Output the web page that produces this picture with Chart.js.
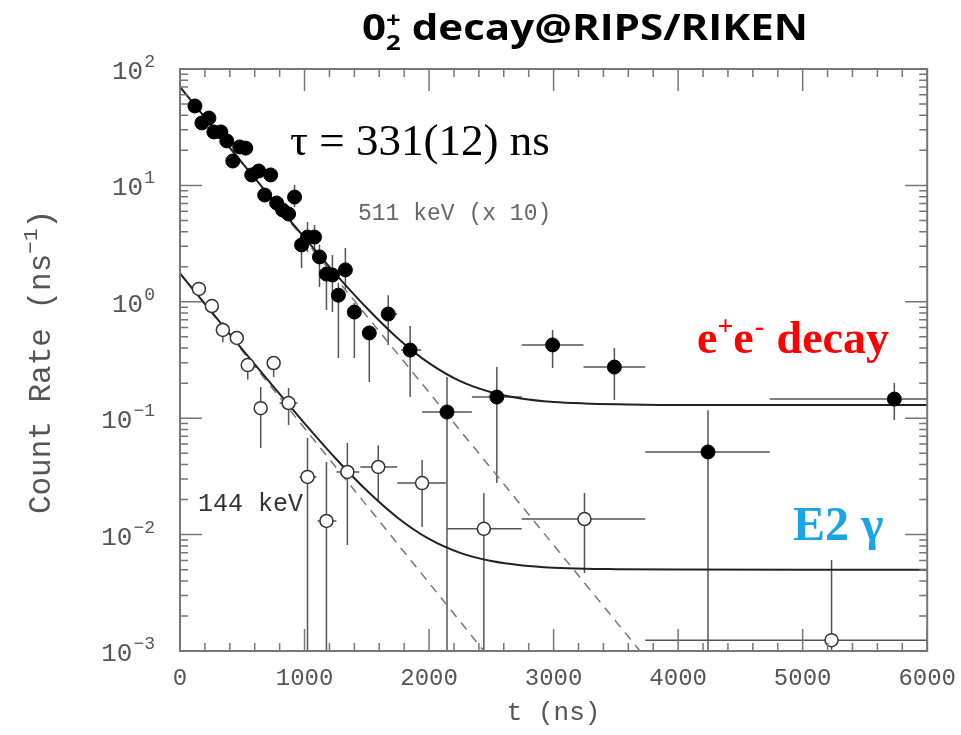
<!DOCTYPE html>
<html>
<head>
<meta charset="utf-8">
<script src="https://cdn.jsdelivr.net/npm/chart.js@4.4.0/dist/chart.umd.min.js"></script>
<style>
  html, body { margin: 0; padding: 0; background: #fff; }
  #wrap { width: 961px; height: 735px; }
</style>
</head>
<body>
<div id="wrap"><canvas id="decayChart" width="961" height="735"></canvas></div>
<script>
// 511 keV (x 10) points, filled circles
const filledT    = [120, 176, 232, 272, 328, 376, 424, 480, 528, 576, 632, 680, 728, 776, 824, 872, 920, 976, 1024, 1080, 1120, 1176, 1224, 1272, 1328, 1400, 1520, 1672, 1848, 2144, 2544, 2992, 3488, 4240, 5736];
const filledRate = [48.1, 34.4, 37.9, 28.8, 28.8, 24.1, 16.2, 21.4, 20.9, 12.3, 13.3, 8.27, 12.3, 7.06, 6.15, 5.68, 7.94, 3.08, 3.60, 3.60, 2.43, 1.73, 1.70, 1.14, 1.88, 0.817, 0.540, 0.785, 0.385, 0.113, 0.152, 0.426, 0.275, 0.0513, 0.146];
const filledLo   = [null, null, null, null, null, null, null, null, null, null, null, null, null, null, null, null, 6.5, 1.95, 2.68, 2.68, 1.34, 0.851, 0.817, 0.329, 1.26, 0.329, 0.205, 0.426, 0.152, 0.001, 0.0277, 0.270, 0.143, 0.001, 0.0966];
const filledHi   = [null, null, null, null, null, null, null, null, null, null, null, null, null, null, null, null, 10.1, 3.75, 4.85, 4.57, 3.08, 2.07, 2.52, 1.45, 2.90, 0.977, 0.596, 1.14, 0.619, 0.226, 0.275, 0.573, 0.401, 0.117, 0.201];
const filledTLo  = [null, null, null, null, null, null, null, null, null, null, null, null, null, null, null, null, null, null, null, null, null, null, null, null, null, null, null, 1624, 1776, 1944, 2344, 2744, 3240, 3736, 4736];
const filledTHi  = [null, null, null, null, null, null, null, null, null, null, null, null, null, null, null, null, null, null, null, null, null, null, null, null, null, null, null, 1744, 1936, 2344, 2744, 3240, 3736, 4736, 6000];

// 144 keV points, open circles
const openT    = [152, 256, 344, 456, 544, 648, 752, 872, 1024, 1176, 1344, 1592, 1944, 2440, 3248, 5232];
const openRate = [1.29, 0.920, 0.573, 0.489, 0.286, 0.122, 0.298, 0.135, 0.0313, 0.0131, 0.0345, 0.0381, 0.0277, 0.0112, 0.0136, 0.00124];
const openLo   = [null, null, 0.45, null, 0.215, 0.0555, 0.226, 0.0875, 0.001, 0.001, 0.00815, 0.0198, 0.0116, 0.001, 0.00468, 0.001];
const openHi   = [null, null, 0.67, null, 0.286, 0.185, 0.336, 0.182, 0.0676, 0.0421, 0.0612, 0.0587, 0.0437, 0.0228, 0.0228, 0.00605];
const openTLo  = [null, null, null, null, null, null, null, 800, 960, 1104, 1256, 1448, 1744, 2144, 2744, 3736];
const openTHi  = [null, null, null, null, null, null, null, 944, 1096, 1256, 1440, 1744, 2136, 2744, 3736, 6000];

// fit curves
const fitT   = [0, 250, 500, 750, 1000, 1250, 1500, 1750, 2000, 2250, 2500, 2750, 3000, 3250, 3500, 4000, 5000, 6000];
const fit511 = [70.1, 33.0, 15.6, 7.39, 3.55, 1.73, 0.884, 0.484, 0.297, 0.208, 0.167, 0.147, 0.138, 0.134, 0.132, 0.130, 0.130, 0.130];
const fit144 = [1.755, 0.827, 0.391, 0.1865, 0.0904, 0.0451, 0.0239, 0.0139, 0.00917, 0.00696, 0.00592, 0.00543, 0.00520, 0.00509, 0.00505, 0.00501, 0.0050, 0.0050];
const dashT511 = [0, 3694];
const dash511  = [70, 0.001];
const dashT144 = [0, 2440];
const dash144  = [1.75, 0.001];

// axis ticks
const xTicks = [0, 1000, 2000, 3000, 4000, 5000, 6000];
const yExponents = [-3, -2, -1, 0, 1, 2];

const toPoints = (xs, ys) => xs.map((v, i) => ({ x: v, y: ys[i] }));

const MONO = '"Liberation Mono", "DejaVu Sans Mono", monospace';
const SERIF = '"Liberation Serif", "DejaVu Serif", serif';

function drawBars(ctx, x, y, ts, vals, lo, hi, tlo, thi) {
    ts.forEach((t, i) => {
        const px = x.getPixelForValue(t);
        const py = y.getPixelForValue(vals[i]);
        if (lo[i] !== null) {
            ctx.beginPath();
            ctx.moveTo(px, y.getPixelForValue(lo[i]));
            ctx.lineTo(px, y.getPixelForValue(hi[i]));
            ctx.stroke();
        }
        if (tlo[i] !== null) {
            ctx.beginPath();
            ctx.moveTo(x.getPixelForValue(tlo[i]), py);
            ctx.lineTo(x.getPixelForValue(thi[i]), py);
            ctx.stroke();
        }
    });
}

const errorBars = {
    id: 'errorBars',
    beforeDatasetsDraw(chart) {
        const { ctx, chartArea: a, scales: { x, y } } = chart;
        ctx.save();
        ctx.beginPath();
        ctx.rect(a.left, a.top, a.right - a.left, a.bottom - a.top);
        ctx.clip();
        ctx.strokeStyle = '#555';
        ctx.lineWidth = 1.5;
        drawBars(ctx, x, y, filledT, filledRate, filledLo, filledHi, filledTLo, filledTHi);
        drawBars(ctx, x, y, openT, openRate, openLo, openHi, openTLo, openTHi);
        ctx.restore();
    }
};

// frame with inward ticks, y labels and the annotations
const decorations = {
    id: 'decorations',
    afterDraw(chart) {
        const { ctx, chartArea: a, scales: { x, y } } = chart;
        ctx.save();
        ctx.strokeStyle = '#777';
        ctx.lineWidth = 2;
        ctx.strokeRect(a.left, a.top, a.right - a.left, a.bottom - a.top);

        ctx.lineWidth = 1.5;
        ctx.beginPath();
        for (let t = 0; t <= 6000; t += 200) {
            const px = x.getPixelForValue(t);
            const len = t % 1000 === 0 ? 22 : 8;
            ctx.moveTo(px, a.bottom); ctx.lineTo(px, a.bottom - len);
            ctx.moveTo(px, a.top); ctx.lineTo(px, a.top + len);
        }
        for (let e = -3; e <= 2; e++) {
            for (let m = 1; m <= 9; m++) {
                if (e === 2 && m > 1) break;
                const py = y.getPixelForValue(m * Math.pow(10, e));
                const len = m === 1 ? 22 : 8;
                ctx.moveTo(a.left, py); ctx.lineTo(a.left + len, py);
                ctx.moveTo(a.right, py); ctx.lineTo(a.right - len, py);
            }
        }
        ctx.stroke();

        // y tick labels: 10 with raised exponent
        ctx.fillStyle = '#555';
        ctx.textAlign = 'left';
        ctx.textBaseline = 'alphabetic';
        yExponents.forEach(e => {
            const py = y.getPixelForValue(Math.pow(10, e));
            const exp = e < 0 ? '\u2212' + (-e) : String(e);
            ctx.font = '18px ' + MONO;
            const ew = ctx.measureText(exp).width;
            ctx.fillText(exp, 155 - ew, py - 2);
            ctx.font = '26px ' + MONO;
            const bw = ctx.measureText('10').width;
            ctx.fillText('10', 155 - ew - bw - 1, py + 10);
        });

        // y title, rotated
        ctx.save();
        ctx.translate(40, 362);
        ctx.rotate(-Math.PI / 2);
        ctx.font = '31px ' + MONO;
        const p1 = 'Count Rate (ns', p2 = '\u22121', p3 = ')';
        const w1 = ctx.measureText(p1).width;
        const w3 = ctx.measureText(p3).width;
        ctx.font = '21px ' + MONO;
        const w2 = ctx.measureText(p2).width;
        let sx = -(w1 + w2 + w3) / 2;
        ctx.font = '31px ' + MONO;
        ctx.fillText(p1, sx, 10);
        ctx.font = '21px ' + MONO;
        ctx.fillText(p2, sx + w1, -3);
        ctx.font = '31px ' + MONO;
        ctx.fillText(p3, sx + w1 + w2, 10);
        ctx.restore();

        // x title
        ctx.font = '26px ' + MONO;
        ctx.textAlign = 'center';
        ctx.fillText('t (ns)', (a.left + a.right) / 2, 720);
        ctx.textAlign = 'left';

        // in-plot labels
        ctx.fillStyle = '#666';
        ctx.font = '23px ' + MONO;
        ctx.fillText('511 keV (x 10)', 358, 220);
        ctx.fillStyle = '#333';
        ctx.font = '25px ' + MONO;
        ctx.fillText('144 keV', 198, 511);

        ctx.fillStyle = '#000';
        ctx.font = '45px ' + SERIF;
        ctx.fillText('\u03c4 = 331(12) ns', 290, 155);

        // e+e- decay
        ctx.fillStyle = '#ff0000';
        let cx = 697;
        const big = 'bold 46px ' + SERIF, sup = 'bold 28px ' + SERIF;
        ctx.font = big; ctx.fillText('e', cx, 353); cx += ctx.measureText('e').width;
        ctx.font = sup; ctx.fillText('+', cx, 335); cx += ctx.measureText('+').width;
        ctx.font = big; ctx.fillText('e', cx, 353); cx += ctx.measureText('e').width;
        ctx.font = sup; ctx.fillText('-', cx + 1, 335); cx += ctx.measureText('-').width + 2;
        ctx.font = big; ctx.fillText(' decay', cx, 353);

        // E2 gamma
        ctx.fillStyle = '#19a4e6';
        ctx.font = 'bold 48px ' + SERIF;
        ctx.fillText('E2 \u03b3', 793, 540);

        // page title
        ctx.fillStyle = '#000';
        const tf = 'bold 36px "Open Sans", "Noto Sans", sans-serif';
        const tsf = 'bold 22px "Open Sans", "Noto Sans", sans-serif';
        ctx.font = tf;
        const wz = ctx.measureText('0').width;
        const wr = ctx.measureText(' decay@RIPS/RIKEN').width;
        ctx.font = tsf;
        const ws = Math.max(ctx.measureText('2').width, ctx.measureText('+').width);
        const scaleX = 446 / (wz + ws + wr);
        ctx.translate(362, 0);
        ctx.scale(scaleX, 1);
        ctx.font = tf; ctx.fillText('0', 0, 40);
        ctx.font = tsf; ctx.fillText('2', wz, 50); ctx.fillText('+', wz, 27);
        ctx.font = tf; ctx.fillText(' decay@RIPS/RIKEN', wz + ws, 40);
        ctx.restore();
    }
};

const data = {
    datasets: [
        {
            label: '511 keV (x 10)',
            data: toPoints(filledT, filledRate),
            pointRadius: 7,
            pointBackgroundColor: '#000',
            pointBorderColor: '#000',
            showLine: false,
            order: 0
        },
        {
            label: '144 keV',
            data: toPoints(openT, openRate),
            pointRadius: 6.5,
            pointBackgroundColor: '#fff',
            pointBorderColor: '#333',
            pointBorderWidth: 1.5,
            showLine: false,
            order: 0
        },
        {
            label: 'fit 511',
            data: toPoints(fitT, fit511),
            showLine: true,
            borderColor: '#222',
            borderWidth: 2,
            pointRadius: 0,
            cubicInterpolationMode: 'monotone',
            order: 1
        },
        {
            label: 'fit 144',
            data: toPoints(fitT, fit144),
            showLine: true,
            borderColor: '#222',
            borderWidth: 2,
            pointRadius: 0,
            cubicInterpolationMode: 'monotone',
            order: 1
        },
        {
            label: 'exp 511',
            data: toPoints(dashT511, dash511),
            showLine: true,
            borderColor: '#777',
            borderWidth: 1.5,
            borderDash: [9, 7],
            pointRadius: 0,
            order: 2
        },
        {
            label: 'exp 144',
            data: toPoints(dashT144, dash144),
            showLine: true,
            borderColor: '#777',
            borderWidth: 1.5,
            borderDash: [9, 7],
            pointRadius: 0,
            order: 2
        }
    ]
};

const config = {
    type: 'scatter',
    data: data,
    options: {
        responsive: false,
        animation: false,
        devicePixelRatio: 1,
        layout: { padding: { top: 69, right: 25, left: 0, bottom: 0 } },
        plugins: {
            legend: { display: false },
            tooltip: { enabled: false }
        },
        scales: {
            x: {
                type: 'linear',
                min: 0,
                max: 6000,
                afterBuildTicks: s => { s.ticks = xTicks.map(v => ({ value: v })); },
                afterFit: s => { s.height = 84; },
                grid: { display: false },
                border: { display: false },
                ticks: {
                    color: '#555',
                    padding: 5,
                    maxRotation: 0,
                    font: { family: MONO, size: 24 },
                    callback: v => String(v)
                }
            },
            y: {
                type: 'logarithmic',
                min: 0.001,
                max: 100,
                afterBuildTicks: s => { s.ticks = yExponents.map(e => ({ value: Math.pow(10, e) })); },
                afterFit: s => { s.width = 180; },
                grid: { display: false },
                border: { display: false },
                ticks: { display: false }
            }
        }
    },
    plugins: [errorBars, decorations]
};

const ctx = document.getElementById('decayChart').getContext('2d');
const decayChart = new Chart(ctx, config);
</script>
</body>
</html>
